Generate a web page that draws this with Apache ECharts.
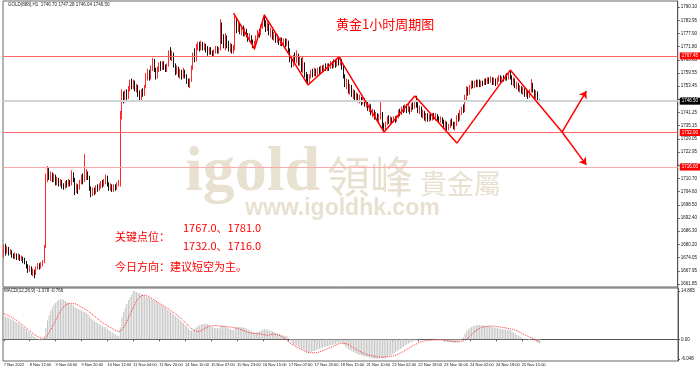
<!DOCTYPE html>
<html><head><meta charset="utf-8">
<script src="https://cdn.jsdelivr.net/npm/echarts@6/dist/echarts.min.js"></script>
<style>html,body{margin:0;padding:0;background:#fff}#c{width:700px;height:373px}</style>
</head><body><div id="c"></div>
<script>
// ---- data ----
const timeTicks = ['7 Nov 2022','8 Nov 12:00','9 Nov 04:00','9 Nov 20:00','10 Nov 12:00','11 Nov 04:00','11 Nov 20:00','14 Nov 15:00','15 Nov 07:00','15 Nov 23:00','16 Nov 15:00','17 Nov 07:00','17 Nov 23:00','18 Nov 15:00','21 Nov 10:00','22 Nov 02:00','22 Nov 18:00','23 Nov 10:00','24 Nov 02:00','24 Nov 18:00','25 Nov 15:00'];
const priceTicks = ['1790.10','1783.95','1777.90','1771.80','1765.65','1759.55','1753.45','1747.35','1741.25','1735.15','1729.05','1722.95','1716.80','1710.70','1704.60','1698.50','1692.40','1686.30','1680.20','1674.05','1667.95','1661.85'];
const macdTicks = ['14.865','0.00','-6.048'];
const keyLevels = [1767.45, 1732.00, 1716.00];
const currentPrice = 1746.50;
const zigzag = [[142,1787.3],[155,1770.7],[161,1786.4],[188,1754.0],[207,1766.9],[235,1732.2],[254,1748.9],[280,1727.1],[313,1760.9],[345,1732.2]];
const arrowFrom = [345,1732.2], arrowUp = [360,1751.2], arrowDown = [360,1717.0];
const slotCount = 417;
// candles: [open, close, low, high]
const candles = [
[1676,1679,1674,1680],[1679,1677,1675,1680.5],[1677,1678,1676,1679.5],[1678,1676,1675,1679],[1676,1677,1675.5,1678],[1677,1675,1674,1677.5],[1675,1674.5,1673.5,1676],[1674.5,1675.5,1673.5,1676.5],
[1675.5,1674,1673,1676],[1674,1675,1673,1676],[1675,1673.5,1672.5,1675.5],[1673.5,1674,1672.5,1675],[1674,1673,1671.5,1674.5],[1673,1672,1671,1674],[1672,1670,1669,1672.5],[1670,1668.5,1667,1671],
[1668.5,1669.5,1667.5,1670.5],[1669.5,1667,1666,1670],[1667,1668,1665.5,1669],[1668,1666.5,1664.5,1668.5],[1666.5,1669,1666,1670],[1669,1670.5,1668.5,1671.5],[1670.5,1669.5,1668.5,1671.5],[1669.5,1671,1669,1672],
[1671,1672,1670,1673],[1672,1679,1671.5,1680],[1679,1711,1678.5,1713],
[1711,1714,1709,1716.5],[1714,1711,1710,1715.5],[1711,1712.5,1709.5,1714],[1712.5,1710,1709,1713.5],[1710,1711.5,1709,1713],[1711.5,1709,1707.5,1712.5],[1709,1710,1707.5,1711.5],[1710,1708,1707,1711],
[1708,1709.5,1707,1710.5],[1709.5,1707,1706,1710],[1707,1706.5,1705.5,1708.5],[1706.5,1708.5,1706,1709.5],[1708.5,1707.5,1706.5,1710],[1707.5,1709,1707,1710.5],[1709,1708,1707,1710],[1708,1713,1707.5,1714.5],
[1713,1710,1709,1713.5],[1710,1705,1703,1711],[1705,1707.5,1704,1708.5],[1707.5,1706,1703.5,1708],[1706,1709,1705.5,1710],[1709,1711,1708,1712.5],[1711,1710,1708,1713],[1710,1712,1709,1722],
[1712,1713,1710,1715],[1713,1711,1710,1714],[1711,1706,1705,1712],[1706,1703.5,1702,1707],[1703.5,1705,1702.5,1706.5],[1705,1704,1703,1706.5],[1704,1706.5,1703.5,1707.5],[1706.5,1705.5,1704.5,1708],
[1705.5,1707,1705,1708.5],[1707,1708.5,1706,1709.5],[1708.5,1707.5,1706.5,1710],[1707.5,1709,1707,1710.5],[1709,1711.5,1708,1712.5],[1711.5,1708,1707,1712],[1708,1706,1705,1709],[1706,1707.5,1705,1708.5],
[1707.5,1705.5,1704.5,1708],[1705.5,1707,1704.5,1708],[1707,1706,1705,1708],[1706,1708,1705.5,1709],[1708,1709,1707,1710],[1709,1740,1707,1742],[1740,1749,1738,1752],
[1749,1747,1745.5,1751],[1747,1750,1746,1751.5],[1750,1748,1746.5,1752],[1748,1752,1747.5,1753.5],[1752,1755,1751,1756.5],[1755,1753,1752,1757],[1753,1755.5,1752,1756.5],[1755.5,1752,1751,1756],
[1752,1753,1750.5,1754.5],[1753,1750,1748.5,1754],[1750,1748,1747,1751.5],[1748,1751,1746.5,1752],[1751,1749.5,1748.5,1752.5],[1749.5,1753,1749,1754],[1753,1758,1752.5,1759.5],[1758,1760,1756,1761.5],
[1760,1757,1756,1761],[1757,1762,1756.5,1763],[1762,1765,1760.5,1766.5],[1765,1761,1760,1766],[1761,1758,1756.5,1762],[1758,1761,1757,1762.5],[1761,1763,1760,1764.5],[1763,1762,1760.5,1765],
[1762,1764,1761,1765],[1764,1762.5,1761,1765],[1762.5,1761,1760,1763.5],[1761,1763,1760,1764],[1763,1769,1762.5,1770],[1769,1767,1765.5,1771.5],[1767,1768.5,1765,1770],[1768.5,1763,1762,1769],
[1763,1760,1758.5,1764],[1760,1762,1759,1763],[1762,1759,1757.5,1762.5],[1759,1760.5,1757,1761.5],[1760.5,1758,1756.5,1761],[1758,1760,1757,1762],[1760,1758.5,1757,1761],[1758.5,1756,1754.5,1759],
[1756,1754.5,1753,1757],[1754.5,1756,1752.5,1757],[1756,1762,1755.5,1763],[1762,1768,1761,1769],[1768,1766,1764.5,1771],[1766,1771,1765,1773],[1771,1772.5,1770,1774],[1772.5,1771,1769.5,1774],
[1771,1773,1770,1774.5],[1773,1771.5,1770,1774],[1771.5,1772,1770,1773.5],[1772,1770.5,1769,1773],[1770.5,1769,1767.5,1772],[1769,1770.5,1768,1771.5],[1770.5,1769,1768,1771.5],[1769,1768,1767,1770],
[1768,1769.5,1767,1770.5],[1769.5,1771,1768.5,1772],[1771,1769.5,1768.5,1772],[1769.5,1770.5,1768.5,1771.5],[1770.5,1780,1770,1784.5],[1780,1776,1773,1783],[1776,1772,1771,1777.5],[1772,1775,1770,1778],
[1775,1773.5,1771,1777],[1773.5,1771,1769.5,1774.5],[1771,1772,1769,1773.5],[1772,1770,1768.5,1773],
[1770,1771,1768.5,1772.5],[1771,1783,1770,1786],[1783,1780,1778,1785],[1780,1781.5,1778.5,1783],[1781.5,1779,1777.5,1782.5],[1779,1780.5,1777,1781.5],[1780.5,1778,1776.5,1781.5],[1778,1779.5,1776.5,1780.5],
[1779.5,1777,1776,1780],[1777,1775.5,1774,1778],[1775.5,1776.5,1774,1778],[1776.5,1774,1773,1777],[1774,1772.5,1771,1775],[1772.5,1773,1770.2,1774.5],[1773,1776,1772,1777],[1776,1778.5,1775,1779.5],
[1778.5,1777.5,1776,1780],[1777.5,1781,1777,1782],[1781,1783.5,1780,1784.5],[1783.5,1782,1781,1786.5],[1782,1780,1778.5,1784],[1780,1782,1779,1783.5],[1782,1778,1777,1782.5],[1778,1779,1776,1780.5],
[1779,1776.5,1775,1779.5],[1776.5,1777.5,1774.5,1778.5],[1777.5,1775,1773.5,1778],[1775,1776,1773.5,1777.5],[1776,1774,1772.5,1776.5],[1774,1775,1772,1776],[1775,1773,1772,1776],[1773,1774.5,1772,1775.5],
[1774.5,1773,1771.5,1775.5],[1773,1774,1772,1775.5],[1774,1770,1769,1774.5],[1770,1766,1764.5,1771],[1766,1763,1762,1767.5],[1763,1767,1762.5,1768],[1767,1765,1763.5,1769],[1765,1768,1764,1770],
[1768,1764,1763,1768.5],[1764,1766,1763,1767.5],[1766,1761,1760,1766.5],[1761,1764,1759.5,1767],[1764,1759,1757.5,1764.5],[1759,1757,1755.5,1760],[1757,1755.5,1754.5,1759],[1755.5,1758,1754.8,1759],
[1758,1760,1757,1761],[1760,1758.5,1757.5,1761.5],[1758.5,1760.5,1758,1762],[1760.5,1759,1758,1761.5],[1759,1761,1758,1762],[1761,1760,1759,1762.5],[1760,1761.5,1759.5,1763],[1761.5,1761,1760,1763],
[1761,1762.5,1760,1763.5],[1762.5,1761.5,1760.5,1764],[1761.5,1763,1760.5,1764],[1763,1762,1760.5,1764],[1762,1763.5,1761.5,1765],[1763.5,1762.5,1761.5,1765],[1762.5,1764.5,1762,1766],[1764.5,1763,1762,1765.5],
[1763,1765,1762.5,1766],[1765,1764,1763,1766.5],[1764,1765.5,1763,1767],[1765.5,1762,1761,1766],[1762,1758,1757,1763],[1758,1754,1753,1759],[1754,1756,1752,1757],[1756,1751,1750,1756.5],
[1751,1753,1749.5,1754.5],[1753,1749.5,1748.5,1754],[1749.5,1751,1747.5,1752],[1751,1748,1747,1751.5],[1748,1749.5,1746.5,1750.5],[1749.5,1747,1746,1750],[1747,1748,1745.5,1749.5],[1748,1746,1744.5,1748.5],
[1746,1747.5,1745,1748.5],[1747.5,1745,1744,1748],[1745,1746,1743.5,1747],[1746,1743,1742,1746.5],[1743,1744.5,1741.5,1745.5],[1744.5,1741,1740,1745],[1741,1742,1739,1743],[1742,1739,1738,1742.5],
[1739,1740.5,1738,1741.5],[1740.5,1738,1737,1741],[1738,1739,1736,1740.5],[1739,1741,1738,1747],[1741,1735,1734,1741.5],[1735,1733.5,1732,1736.5],[1733.5,1736,1733,1737],[1736,1738.5,1735.5,1739.5],
[1738.5,1737,1736,1740],[1737,1738,1736,1739.5],[1738,1737,1736,1739],[1737,1738.5,1736.5,1739.5],[1738.5,1737.5,1736.5,1739.5],[1737.5,1739,1737,1740],[1739,1741.5,1738.5,1742.5],[1741.5,1740.5,1739.5,1743],
[1740.5,1743,1740,1744],[1743,1742,1741,1744.5],[1742,1744,1741.5,1745],[1744,1742.5,1741,1745],[1742.5,1743.5,1741.5,1745.5],[1743.5,1742,1740.5,1744],[1742,1744.5,1741.5,1745.5],[1744.5,1743.5,1742.5,1746],
[1743.5,1746,1743,1747],[1746,1745,1743.5,1749],[1745,1742,1741,1746],[1742,1743.5,1740.5,1744.5],[1743.5,1740,1739,1744],[1740,1741.5,1738.5,1742.5],[1741.5,1739,1737.5,1742],[1739,1740,1737,1741],
[1740,1738,1737,1741],[1738,1739.5,1737,1740.5],[1739.5,1738.5,1737.5,1741],[1738.5,1740,1737.5,1741],[1740,1739,1738,1741],[1739,1740,1737.5,1741],[1740,1738.5,1737.5,1740.5],[1738.5,1737.5,1736.5,1739.5],
[1737.5,1738.5,1736.5,1739.5],[1738.5,1737,1736,1739],[1737,1735.5,1734,1738],[1735.5,1736.5,1733.5,1737.5],[1736.5,1734.5,1733,1737],[1734.5,1735,1733,1736],
[1735,1737,1734,1738],[1737,1736,1735,1738.5],[1736,1734,1733.5,1737],[1734,1736,1733,1737],[1736,1739,1735,1740],[1739,1738,1737,1741],[1738,1741,1737.5,1742.5],[1741,1743,1740,1744],
[1743,1742,1741,1745],[1742,1748,1741.5,1749.5],[1748,1752,1747,1753.5],[1752,1750,1749,1753],[1750,1753,1749.5,1754],[1753,1755,1752,1756],[1755,1753.5,1752.5,1756],[1753.5,1755,1752.5,1756],
[1755,1754,1753,1756.5],[1754,1755.5,1753,1756.5],[1755.5,1754,1753,1756.5],[1754,1755,1753,1756],[1755,1754.5,1753.5,1756],[1754.5,1756,1754,1757],[1756,1755,1754,1757],[1755,1756.5,1754.5,1757.5],
[1756.5,1755.5,1754.5,1757.5],[1755.5,1757,1755,1758],[1757,1755.5,1754,1757.5],[1755.5,1756.5,1754,1757.5],[1756.5,1755,1753.5,1757],[1755,1756.5,1754,1757.5],[1756.5,1757.5,1755.5,1758.5],[1757.5,1756,1755,1758.5],
[1756,1757.5,1755.5,1758],[1757.5,1756.5,1755.5,1758.5],[1756.5,1758,1756,1759],[1758,1757,1756,1759.5],[1757,1759,1756.5,1760],[1759,1758,1756.5,1760.5],[1758,1755,1754,1758.5],[1755,1756.5,1753.5,1757.5],
[1756.5,1753.5,1752.5,1757],[1753.5,1754.5,1752,1755.5],[1754.5,1752,1751,1755],[1752,1753,1750.5,1754],[1753,1751,1750,1753.5],[1751,1752,1749.5,1753],[1752,1750,1748.5,1752.5],[1750,1751,1748.5,1752],
[1751,1749,1747.5,1751.5],[1749,1751,1748,1752],[1751,1754,1750.5,1756.7],[1754,1751.5,1750.5,1755],[1751.5,1749,1748,1752],[1749,1750.5,1747.5,1751.5],[1750.5,1746.7,1746,1751],[1746.7,1746.5,1746.04,1747.28]
];
const macdMain = [
7.2,7.0,6.8,6.6,6.3,6.0,5.8,5.5,5.2,4.9,4.6,4.2,3.8,3.4,3.0,2.5,
2.1,1.6,1.2,0.8,0.4,0.1,-0.3,-0.4,-0.2,0.8,3.5,5.8,7.4,8.8,9.8,10.6,
11.2,11.7,12.1,12.4,12.3,12.1,11.8,11.5,11.2,10.9,10.8,10.4,9.8,9.6,9.3,9.0,
8.8,8.5,8.4,8.1,7.6,7.0,6.4,6.0,5.6,5.2,4.9,4.6,4.3,4.0,3.8,3.6,
3.2,2.8,2.4,2.1,1.8,1.5,1.2,0.9,3.6,6.6,8.4,9.8,10.9,12.0,12.9,13.8,
14.87,14.7,14.5,14.3,14.1,13.9,13.6,13.4,13.2,12.9,12.7,12.4,12.2,11.9,11.6,11.3,
10.9,10.6,10.3,10.0,9.6,9.2,8.8,8.4,8.0,7.6,7.2,6.8,6.4,5.9,5.4,4.9,
4.4,3.9,3.4,2.9,2.6,2.8,3.2,3.6,4.0,4.3,4.5,4.7,4.8,4.8,4.7,4.5,
3.9,3.7,3.5,3.5,3.4,3.3,4.2,4.3,3.9,3.8,3.6,3.3,3.1,2.9,2.8,3.6,
3.8,3.9,3.8,3.7,3.6,3.5,3.3,3.0,2.8,2.5,2.2,2.0,2.1,2.3,2.4,2.7,
3.0,3.1,3.0,3.0,2.8,2.6,2.4,2.2,2.0,1.8,1.6,1.4,1.2,1.1,1.0,0.9,
0.4,-0.4,-1.3,-1.6,-1.9,-2.0,-2.4,-2.5,-3.0,-3.1,-3.5,-3.9,-4.1,-4.0,-3.8,-3.7,
-3.5,-3.3,-3.1,-2.9,-2.7,-2.6,-2.4,-2.3,-2.1,-2.0,-1.9,-1.7,-1.6,-1.4,-1.3,-1.1,
-1.0,-1.1,-1.6,-2.2,-2.6,-3.1,-3.3,-3.7,-3.9,-4.2,-4.4,-4.6,-4.8,-5.0,-5.1,-5.3,
-5.4,-5.5,-5.7,-5.8,-5.9,-6.0,-6.0,-6.048,-5.9,-5.6,-5.8,-5.9,-5.7,-5.4,-5.1,-4.8,
-4.6,-4.3,-4.0,-3.7,-3.3,-3.0,-2.6,-2.3,-1.9,-1.6,-1.3,-1.1,-0.8,-0.6,-0.3,-0.1,
-0.1,-0.1,-0.1,0.0,0.0,0.1,0.1,0.0,0.0,-0.1,-0.1,-0.1,-0.2,-0.2,-0.2,-0.3,
-0.5,-0.6,-0.8,-0.9,-0.9,-1.0,-1.1,-1.1,-0.9,-0.6,-0.3,0.2,0.6,1.8,2.6,3.0,
3.4,3.8,4.0,4.2,4.3,4.4,4.4,4.3,4.3,4.2,4.1,4.0,3.9,3.8,3.7,3.6,
3.5,3.4,3.3,3.2,3.1,3.0,3.0,2.9,2.9,2.8,2.4,2.1,1.7,1.4,1.1,0.8,
0.5,0.3,0.1,0.0,-0.2,-0.3,0.0,-0.1,-0.5,-0.8,-1.1,-1.378
];
const macdSignal = [
7.9,7.7,7.5,7.2,7.0,6.7,6.4,6.1,5.8,5.4,5.0,4.6,4.2,3.8,3.4,3.0,
2.6,2.2,1.8,1.4,1.1,0.8,0.5,0.3,0.2,0.2,0.6,1.4,2.2,3.0,3.9,4.8,
5.8,6.8,7.7,8.6,9.4,10.0,10.5,10.8,11.0,11.1,11.1,11.0,10.9,10.7,10.5,10.2,
9.9,9.6,9.3,9.0,8.7,8.3,7.9,7.5,7.1,6.7,6.3,5.9,5.5,5.2,4.8,4.5,
4.2,3.9,3.6,3.3,3.0,2.7,2.5,2.3,2.4,2.9,3.6,4.5,5.5,6.6,7.7,8.8,
9.9,10.9,11.8,12.5,13.0,13.4,13.6,13.6,13.5,13.3,13.0,12.7,12.4,12.1,11.8,11.4,
11.1,10.8,10.5,10.2,9.9,9.6,9.2,8.9,8.5,8.2,7.9,7.5,7.1,6.7,6.2,5.7,
5.2,4.7,4.2,3.7,3.3,2.9,2.6,2.4,2.3,2.4,2.7,3.0,3.3,3.6,3.8,4.0,
4.1,4.2,4.2,4.2,4.1,4.1,4.0,4.0,4.0,3.9,3.9,3.8,3.7,3.7,3.6,3.5,
3.4,3.3,3.1,2.9,2.7,2.5,2.2,2.1,2.0,1.9,1.9,1.8,1.8,1.7,1.7,1.6,
1.5,1.4,1.3,1.2,1.3,1.5,1.6,1.6,1.5,1.4,1.2,1.1,0.8,0.5,0.2,-0.3,
-0.8,-1.2,-1.5,-1.8,-2.1,-2.4,-2.7,-2.9,-3.2,-3.4,-3.7,-3.9,-4.0,-4.1,-4.2,-4.2,
-4.2,-4.1,-4.0,-3.9,-3.7,-3.5,-3.3,-3.1,-2.9,-2.7,-2.5,-2.3,-2.1,-1.8,-1.6,-1.4,
-1.3,-1.2,-1.2,-1.3,-1.4,-1.6,-1.9,-2.3,-2.6,-2.9,-3.2,-3.5,-3.8,-4.0,-4.3,-4.5,
-4.7,-4.8,-4.9,-5.0,-5.1,-5.2,-5.3,-5.4,-5.4,-5.5,-5.5,-5.5,-5.5,-5.4,-5.3,-5.2,
-5.2,-5.1,-4.9,-4.7,-4.5,-4.2,-4.0,-3.7,-3.4,-3.1,-2.8,-2.5,-2.2,-1.9,-1.6,-1.4,
-1.1,-0.9,-0.7,-0.6,-0.5,-0.4,-0.3,-0.3,-0.2,-0.2,-0.2,-0.2,-0.2,-0.2,-0.2,-0.2,
-0.3,-0.3,-0.4,-0.5,-0.6,-0.6,-0.7,-0.7,-0.8,-0.8,-0.7,-0.6,-0.5,-0.3,0.1,0.5,
1.0,1.5,2.0,2.4,2.8,3.1,3.4,3.6,3.8,3.9,4.0,4.0,4.1,4.1,4.1,4.0,
4.0,3.9,3.8,3.7,3.7,3.6,3.5,3.4,3.3,3.2,3.1,3.0,2.8,2.6,2.4,2.1,
1.9,1.6,1.3,1.1,0.8,0.6,0.4,0.2,0.0,-0.3,-0.5,-0.766
];

// ---- chart ----
const cats = Array.from({length: slotCount}, (_, i) => String(i));
const priceVals = priceTicks.map(Number);
const macdVals = macdTicks.map(Number);
const RED = '#ff0000';
const chart = echarts.init(document.getElementById('c'));
const smallFont = {fontFamily: 'Liberation Sans', fontSize: 4.5, color: '#111'};
const labelIdx = (i) => i % 16 === 0 && i / 16 < timeTicks.length;

chart.setOption({
  animation: false,
  backgroundColor: '#fff',
  grid: [
    {left: 3, right: 22, top: 1, height: 286, show: true, borderColor: '#666', borderWidth: 1},
    {left: 3, right: 22, top: 288, height: 73, show: true, borderColor: '#666', borderWidth: 1}
  ],
  xAxis: [
    {type: 'category', gridIndex: 0, data: cats, boundaryGap: true,
     axisLine: {show: false}, axisTick: {show: false}, axisLabel: {show: false}, splitLine: {show: false}},
    {type: 'category', gridIndex: 1, data: cats, boundaryGap: true,
     axisLine: {show: true, lineStyle: {color: '#555'}},
     axisTick: {show: true, length: 2, alignWithLabel: true, interval: (i) => labelIdx(i), lineStyle: {color: '#555'}},
     axisLabel: Object.assign({interval: (i) => labelIdx(i), formatter: (v, i) => labelIdx(i) ? timeTicks[i / 16] : '', align: 'left', margin: 2}, smallFont, {fontSize: 4}),
     splitLine: {show: false}}
  ],
  yAxis: [
    {type: 'value', gridIndex: 0, position: 'right', min: 1660.46, max: 1792.88, scale: true,
     axisLine: {show: true, lineStyle: {color: '#555'}},
     axisTick: {show: true, length: 2, customValues: priceVals, lineStyle: {color: '#555'}},
     axisLabel: Object.assign({customValues: priceVals, formatter: (v) => v.toFixed(2), margin: 3}, smallFont),
     splitLine: {show: false}},
    {type: 'value', gridIndex: 1, position: 'right', min: -6.68, max: 15.78,
     axisLine: {show: true, lineStyle: {color: '#555'}},
     axisTick: {show: true, length: 2, customValues: macdVals, lineStyle: {color: '#555'}},
     axisLabel: Object.assign({customValues: macdVals, formatter: (v) => macdTicks[macdVals.findIndex(m => Math.abs(m - v) < 1e-6)] || '', margin: 3}, smallFont),
     splitLine: {show: false}}
  ],
  graphic: [
    {type: 'text', x: 8, y: 5, z: 10, style: {text: 'GOLD(888),H1  1746.70 1747.28 1746.04 1746.50', fontSize: 4.5, fontFamily: 'Liberation Sans', fill: '#222', verticalAlign: 'middle'}},
    {type: 'text', x: 4, y: 291, z: 10, style: {text: 'MACD(12,26,9) -1.378 -0.766', fontSize: 4.5, fontFamily: 'Liberation Sans', fill: '#222', verticalAlign: 'middle'}},
    {type: 'text', x: 185, y: 173, z: 0, style: {text: 'igold', fontSize: 64, fontWeight: 'bold', fontFamily: 'Liberation Serif', fill: '#e8e0d0', verticalAlign: 'middle'}},
    {type: 'text', x: 327, y: 177, z: 0, style: {text: '領峰', fontSize: 43, fontFamily: 'Noto Sans CJK TC', fill: '#e8e0d0', verticalAlign: 'middle'}},
    {type: 'text', x: 420, y: 184, z: 0, style: {text: '貴金屬', fontSize: 27, fontFamily: 'Noto Sans CJK TC', fill: '#e8e0d0', verticalAlign: 'middle'}},
    {type: 'text', x: 245, y: 209, z: 0, style: {text: 'www.igoldhk.com', fontSize: 23, fontWeight: 'bold', fontFamily: 'Liberation Sans', fill: '#e8e0d0', verticalAlign: 'middle'}},
    {type: 'text', x: 336, y: 24, z: 10, style: {text: '黄金1小时周期图', fontSize: 13, fontFamily: 'Noto Sans CJK SC', fill: RED, verticalAlign: 'middle'}},
    {type: 'text', x: 115, y: 237, z: 10, style: {text: '关键点位：', fontSize: 11, fontFamily: 'Noto Sans CJK SC', fill: RED, verticalAlign: 'middle'}},
    {type: 'text', x: 183, y: 228, z: 10, style: {text: '1767.0、1781.0', fontSize: 11, fontFamily: 'Noto Sans CJK SC', fill: RED, verticalAlign: 'middle'}},
    {type: 'text', x: 183, y: 246, z: 10, style: {text: '1732.0、1716.0', fontSize: 11, fontFamily: 'Noto Sans CJK SC', fill: RED, verticalAlign: 'middle'}},
    {type: 'text', x: 115, y: 267, z: 10, style: {text: '今日方向：建议短空为主。', fontSize: 11, fontFamily: 'Noto Sans CJK SC', fill: RED, verticalAlign: 'middle'}}
  ],
  series: [
    {type: 'candlestick', xAxisIndex: 0, yAxisIndex: 0, data: candles, barWidth: '62%', z: 3,
     itemStyle: {color: '#ff2a2a', color0: '#111', borderColor: '#ff2a2a', borderColor0: '#111', borderWidth: 1},
     markLine: {silent: true, symbol: 'none', animation: false,
       data: [
         {yAxis: keyLevels[0], lineStyle: {color: '#ff6464', width: 1, type: 'solid'}},
         {yAxis: keyLevels[1], lineStyle: {color: '#ff6464', width: 1, type: 'solid'}},
         {yAxis: keyLevels[2], lineStyle: {color: '#ffaaaa', width: 1, type: 'solid'}},
         {yAxis: currentPrice, lineStyle: {color: '#d0d4d8', width: 2, type: 'solid'},
          label: {backgroundColor: '#000'}}
       ],
       label: {show: true, position: 'end', distance: 2, formatter: (p) => p.value.toFixed(2), color: '#fff', backgroundColor: '#ff0000', fontSize: 4.5, fontFamily: 'Liberation Sans', padding: [1, 2]}
     }},
    {type: 'line', xAxisIndex: 0, yAxisIndex: 0, data: zigzag, symbol: 'none', z: 6,
     lineStyle: {color: RED, width: 1.5},
     markLine: {silent: true, symbol: ['none', 'arrow'], symbolSize: 7, animation: false,
       lineStyle: {color: RED, width: 1.5, type: 'solid'}, label: {show: false},
       data: [[{coord: arrowFrom}, {coord: arrowUp}], [{coord: arrowFrom}, {coord: arrowDown}]]}},
    {type: 'bar', xAxisIndex: 1, yAxisIndex: 1, data: macdMain, barWidth: 1, itemStyle: {color: '#c4c4c4'}, z: 2},
    {type: 'line', xAxisIndex: 1, yAxisIndex: 1, data: macdSignal, symbol: 'none', z: 3,
     lineStyle: {color: '#ff3030', width: 1, type: 'dotted'}}
  ]
});
</script></body></html>
